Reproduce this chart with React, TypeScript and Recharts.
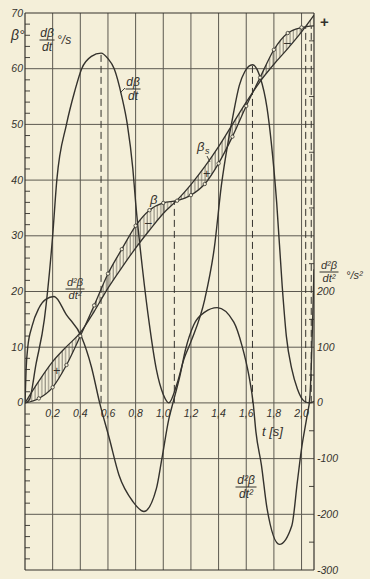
import React from "react";
import {
  ComposedChart,
  Line,
  Area,
  XAxis,
  YAxis,
  ReferenceLine,
  ReferenceDot,
} from "recharts";

// beta (actual angle) and beta_s, sampled every 0.1 s (the small circles on beta)
const tBeta = [0, 0.1, 0.2, 0.3, 0.4, 0.5, 0.6, 0.7, 0.8, 0.9, 1.0, 1.1, 1.2, 1.3, 1.4, 1.5, 1.6, 1.7, 1.8, 1.9, 2.0, 2.09];
const beta = [0, 0.8, 2.8, 6.8, 12, 17.5, 23.2, 27.6, 31.8, 34.6, 35.9, 36.3, 37.3, 39.3, 43, 47.8, 53.3, 58.4, 63.4, 66.4, 67.4, 67.7];
const betaS = [0, 3.9, 7.4, 10.1, 12.6, 16.4, 20.6, 24.3, 27.8, 31.0, 34.0, 36.4, 39.2, 42.4, 46.0, 50.0, 54.0, 57.7, 60.8, 63.6, 66.6, 69.6];

// dbeta/dt in deg/s
const tRate = [0, 0.03, 0.08, 0.14, 0.2, 0.23, 0.3, 0.36, 0.41, 0.48, 0.55, 0.6, 0.645, 0.7, 0.74, 0.78, 0.8, 0.85, 0.9, 0.95, 1.0, 1.04, 1.1, 1.15, 1.2, 1.3, 1.37, 1.42, 1.47, 1.5, 1.55, 1.59, 1.645, 1.7, 1.75, 1.78, 1.82, 1.86, 1.89, 1.93, 1.97, 2.02, 2.06, 2.09];
const rate = [0, 0.5, 7, 15, 30, 40, 50, 56, 60, 62.2, 62.8, 61.8, 60, 55, 50, 42, 36, 24, 14, 6, 1.5, 0, 3.5, 7.9, 11, 18.6, 28, 39, 47, 51, 57, 59.5, 60.7, 58.5, 53, 47, 36, 21, 12, 6, 2.5, 0.3, 0, 0.3];

// d2beta/dt2 in deg/s2 (right axis)
const tAcc = [0, 0.008, 0.02, 0.05, 0.1, 0.15, 0.21, 0.3, 0.41, 0.48, 0.54, 0.61, 0.68, 0.78, 0.86, 0.95, 0.99, 1.04, 1.07, 1.12, 1.16, 1.22, 1.3, 1.39, 1.51, 1.57, 1.62, 1.65, 1.67, 1.71, 1.75, 1.84, 1.93, 1.97, 2.0, 2.04, 2.06, 2.09];
const acc = [0, 60, 100, 137, 170, 186, 191, 158, 118, 65, 0, -64, -130, -177, -195, -154, -100, -29, 0, 48, 95, 140, 163, 171, 145, 102, 48, 0, -52, -112, -189, -254, -220, -141, -82, -23, 10, 240];

const tTicks = [0.2, 0.4, 0.6, 0.8, 1.0, 1.2, 1.4, 1.6, 1.8, 2.0];
const tTickLabels = ["0,2", "0,4", "0,6", "0,8", "1,0", "1,2", "1,4", "1,6", "1,8", "2,0"];
const leftLabels = [0, 10, 20, 30, 40, 50, 60, 70];
const rightLabels = [-300, -200, -100, 0, 100, 200];
const hGrid = [-20, -10, 0, 10, 20, 30, 40, 50, 60];

// dashed verticals: at the extremes of dbeta/dt and the ends of the motion
const dashT = [0.55, 1.08, 1.645, 2.03, 2.07];
const dashTop = [62.8, 36.3, 60.7, 67.5, 67.6];

const W = 370;
const H = 579;
const T_MAX = 2.09;
const INK = "#34322d";
const GRID = "#5c5950";
const PAPER = "#f4efd9";
const FONT = "'Liberation Sans', Arial, sans-serif";

const betaData = tBeta.map((t, i) => ({ t, b: beta[i], bs: betaS[i], band: [betaS[i], beta[i]] }));
const rateData = tRate.map((t, i) => ({ t, v: rate[i] }));
const accData = tAcc.map((t, i) => ({ t, v: acc[i] }));

const leftTicks = Array.from({ length: 51 }, (_, i) => -30 + i * 2);
const rightTicks = Array.from({ length: 21 }, (_, i) => -300 + i * 50);

const txt = { fontFamily: FONT, fontStyle: "italic" as const, fill: INK };

function LeftTick(props: any) {
  const { x, y, payload } = props;
  const v = payload.value;
  if (leftLabels.includes(v)) {
    return (
      <text x={x} y={y + 3.5} textAnchor="end" fontSize={10.5} {...txt}>
        {v}
      </text>
    );
  }
  if (v % 10 !== 0) {
    return <line x1={x + 2} x2={x + 7} y1={y} y2={y} stroke={INK} strokeWidth={0.9} />;
  }
  return <g />;
}

function RightTick(props: any) {
  const { x, y, payload } = props;
  const v = payload.value;
  if (rightLabels.includes(v)) {
    return (
      <text x={x + 1} y={y + 3.5} textAnchor="start" fontSize={10.5} {...txt}>
        {v}
      </text>
    );
  }
  if (v % 100 !== 0) {
    return <line x1={x - 7} x2={x - 2} y1={y} y2={y} stroke={INK} strokeWidth={0.9} />;
  }
  return <g />;
}

function Frac({ cx, y, top, bottom, w, size = 12 }: any) {
  return (
    <g>
      <text x={cx} y={y} textAnchor="middle" fontSize={size} {...txt}>
        {top}
      </text>
      <line x1={cx - w / 2} x2={cx + w / 2} y1={y + 3} y2={y + 3} stroke={INK} strokeWidth={1} />
      <text x={cx} y={y + size + 2} textAnchor="middle" fontSize={size} {...txt}>
        {bottom}
      </text>
    </g>
  );
}

function Annotations() {
  return (
    <svg width={W} height={H} style={{ position: "absolute", left: 0, top: 0, pointerEvents: "none" }}>
      <text x={11} y={40} fontSize={14} {...txt}>β°</text>
      <Frac cx={47} y={37} top="dβ" bottom="dt" w={15} size={12} />
      <text x={57} y={44} fontSize={12} {...txt}>°/s</text>

      <Frac cx={133} y={86} top="dβ" bottom="dt" w={15} size={12} />
      <line x1={120} y1={93} x2={125} y2={88} stroke={INK} strokeWidth={0.9} />

      <text x={150} y={204} fontSize={13} {...txt}>β</text>
      <text x={197} y={151} fontSize={13} {...txt}>β</text>
      <text x={205} y={154} fontSize={9} {...txt}>s</text>
      <line x1={207} y1={156} x2={210} y2={162} stroke={INK} strokeWidth={0.9} />

      <Frac cx={75} y={286} top="d²β" bottom="dt²" w={19} size={11} />
      <Frac cx={329} y={269} top="d²β" bottom="dt²" w={19} size={11} />
      <text x={346} y={279} fontSize={11} {...txt}>°/s²</text>
      <Frac cx={246} y={484} top="d²β" bottom="dt²" w={21} size={12} />
      <text x={262} y={436} fontSize={13} {...txt}>t [s]</text>

      <text x={320} y={27} fontSize={15} fontWeight="bold" fontFamily={FONT} fill={INK}>+</text>
      <text x={53} y={375} fontSize={13} fontFamily={FONT} fill={INK}>+</text>
      <text x={203} y={178} fontSize={13} fontFamily={FONT} fill={INK}>+</text>
      <text x={144} y={228} fontSize={14} fontFamily={FONT} fill={INK}>−</text>
      <text x={283} y={48} fontSize={14} fontFamily={FONT} fill={INK}>−</text>
    </svg>
  );
}

export default function App() {
  return (
    <div style={{ position: "absolute", left: 0, top: 0, width: W, height: H, background: PAPER }}>
      <ComposedChart width={W} height={H} margin={{ top: 13, right: 0, bottom: 9, left: 0 }}>
        <defs>
          <pattern id="hatch" patternUnits="userSpaceOnUse" width={3.4} height={10}>
            <line x1={1} y1={0} x2={1} y2={10} stroke={GRID} strokeWidth={0.8} />
          </pattern>
        </defs>
        <XAxis type="number" dataKey="t" domain={[0, T_MAX]} allowDataOverflow hide />
        <YAxis
          yAxisId="L"
          domain={[-30, 70]}
          ticks={leftTicks}
          interval={0}
          width={25}
          tickSize={0}
          tickMargin={2}
          allowDataOverflow
          axisLine={{ stroke: INK, strokeWidth: 1.2 }}
          tick={(p: any) => <LeftTick {...p} />}
        />
        <YAxis
          yAxisId="R"
          orientation="right"
          domain={[-300, 700]}
          ticks={rightTicks}
          interval={0}
          width={56}
          tickSize={0}
          tickMargin={2}
          allowDataOverflow
          axisLine={{ stroke: INK, strokeWidth: 1.2 }}
          tick={(p: any) => <RightTick {...p} />}
        />

        {tTicks.map((t) => (
          <ReferenceLine key={"gx" + t} x={t} yAxisId="L" stroke={GRID} strokeWidth={1} />
        ))}
        {hGrid.map((v) => (
          <ReferenceLine key={"gy" + v} y={v} yAxisId="L" stroke={GRID} strokeWidth={1} />
        ))}
        <ReferenceLine y={70} yAxisId="L" stroke={INK} strokeWidth={1.2} />
        <ReferenceLine y={-30} yAxisId="L" stroke={INK} strokeWidth={1.2} />

        {dashT.map((t, i) => (
          <ReferenceLine
            key={"d" + i}
            yAxisId="L"
            segment={[{ x: t, y: 0 }, { x: t, y: dashTop[i] }]}
            stroke={INK}
            strokeWidth={1}
            strokeDasharray="7 4"
          />
        ))}

        {tTicks.map((t, i) => (
          <ReferenceDot
            key={"lx" + t}
            x={t}
            y={0}
            yAxisId="L"
            r={0}
            shape={(p: any) => (
              <text x={p.cx} y={p.cy + 14} textAnchor="middle" fontSize={10.5} {...txt}>
                {tTickLabels[i]}
              </text>
            )}
          />
        ))}

        <Area
          yAxisId="L"
          data={betaData}
          dataKey="band"
          type="monotone"
          stroke="none"
          fill="url(#hatch)"
          fillOpacity={1}
          activeDot={false}
          isAnimationActive={false}
        />
        <Line
          yAxisId="L"
          data={betaData}
          dataKey="bs"
          type="monotone"
          stroke={INK}
          strokeWidth={1.3}
          dot={false}
          isAnimationActive={false}
        />
        <Line
          yAxisId="L"
          data={betaData}
          dataKey="b"
          type="monotone"
          stroke={INK}
          strokeWidth={1.3}
          dot={(p: any) =>
            p.index > 0 && p.index < tBeta.length - 1 ? (
              <circle key={"c" + p.index} cx={p.cx} cy={p.cy} r={1.7} fill={PAPER} stroke={INK} strokeWidth={0.8} />
            ) : (
              <g key={"c" + p.index} />
            )
          }
          isAnimationActive={false}
        />
        <Line
          yAxisId="L"
          data={rateData}
          dataKey="v"
          type="monotone"
          stroke={INK}
          strokeWidth={1.4}
          dot={false}
          isAnimationActive={false}
        />
        <Line
          yAxisId="R"
          data={accData}
          dataKey="v"
          type="monotone"
          stroke={INK}
          strokeWidth={1.4}
          dot={false}
          isAnimationActive={false}
        />
      </ComposedChart>
      <Annotations />
    </div>
  );
}
